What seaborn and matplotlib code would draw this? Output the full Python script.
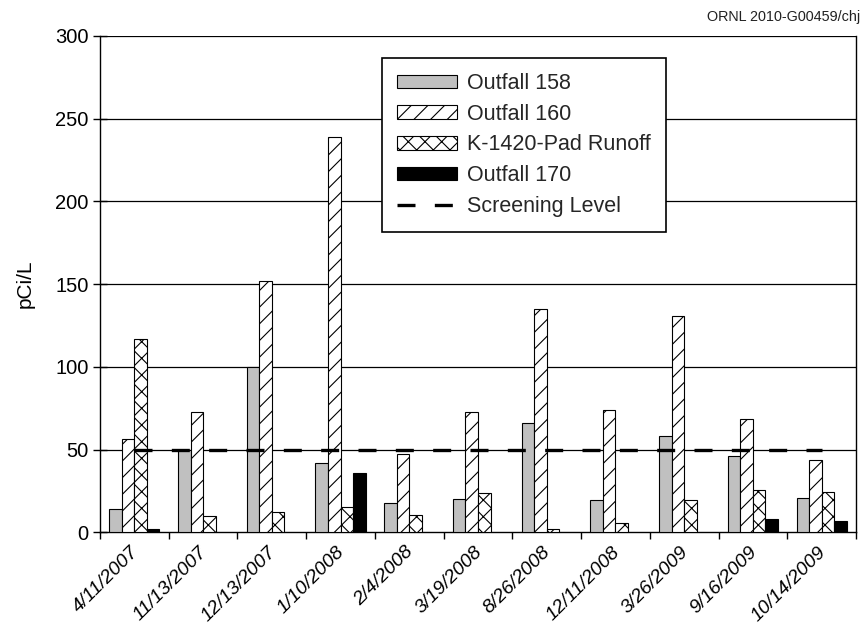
import numpy as np
import pandas as pd
import matplotlib
matplotlib.use("Agg")
import matplotlib.pyplot as plt
import matplotlib.transforms as mtransforms
from matplotlib.patches import Patch
from matplotlib.lines import Line2D
import seaborn as sns

dates = ["4/11/2007", "11/13/2007", "12/13/2007", "1/10/2008", "2/4/2008",
         "3/19/2008", "8/26/2008", "12/11/2008", "3/26/2009", "9/16/2009",
         "10/14/2009"]
outfall_158 = [14, 50, 100, 42, 18, 20, 66, 19.5, 58.5, 46, 21]
outfall_160 = [56.5, 73, 152, 239, 47.5, 73, 135, 74, 131, 68.5, 44]
k1420_pad = [117, 10, 12.5, 15, 10.5, 23.5, 2, 5.5, 19.5, 25.5, 24.5]
outfall_170 = [2, np.nan, np.nan, 36, np.nan, np.nan, np.nan, np.nan, np.nan, 8, 7]
screening_level = 50
series_names = ["Outfall 158", "Outfall 160", "K-1420-Pad Runoff", "Outfall 170"]
y_ticks = [0, 50, 100, 150, 200, 250, 300]

rows = []
for name, vals in zip(series_names, [outfall_158, outfall_160, k1420_pad, outfall_170]):
    for d, v in zip(dates, vals):
        rows.append({"date": d, "series": name, "value": v})
df = pd.DataFrame(rows)

sns.set_theme(style="white")
plt.rcParams["font.family"] = ["Liberation Sans", "DejaVu Sans"]
plt.rcParams["hatch.linewidth"] = 0.8

fig = plt.figure(figsize=(8.62, 6.24), dpi=100)
# axes: x 100..856 px, y 36..532.3 px
ax = fig.add_axes([100 / 862, 1 - 532.3 / 624, 756 / 862, 496.3 / 624])

fills = {"Outfall 158": "#c0c0c0", "Outfall 160": "white",
         "K-1420-Pad Runoff": "white", "Outfall 170": "black"}
hatches = {"Outfall 158": "", "Outfall 160": "//",
           "K-1420-Pad Runoff": "xx", "Outfall 170": ""}

sns.barplot(data=df, x="date", y="value", hue="series", order=dates,
            hue_order=series_names, palette=fills, width=0.73,
            edgecolor="black", linewidth=0.8, legend=False, ax=ax,
            saturation=1, errorbar=None, zorder=3)

for cont, name in zip(ax.containers, series_names):
    for p in cont:
        p.set_hatch(hatches[name])
        p.set_facecolor(fills[name])
        p.set_edgecolor("black")

# screening level
xs = np.arange(len(dates))
ax.plot(xs, [screening_level] * len(dates), color="black", lw=2.4,
        dashes=(5.4, 5.8), zorder=5, dash_capstyle="butt")

ax.set_ylim(0, 300)
ax.set_xlim(-0.5, len(dates) - 0.5)
ax.set_yticks(y_ticks)
ax.set_yticklabels([str(t) for t in y_ticks], fontsize=14.5)
for t in y_ticks[1:]:
    ax.axhline(t, color="black", lw=0.9, zorder=1)

for s in ax.spines.values():
    s.set_color("black")
    s.set_linewidth(1)
ax.spines["top"].set_visible(False)

ax.tick_params(axis="y", which="major", length=9.4, width=1, direction="inout",
               left=True, pad=3.5, colors="black")
ax.set_xticks(xs)
ax.set_xticks(np.arange(-0.5, len(dates), 1), minor=True)
ax.tick_params(axis="x", which="major", length=0, pad=8)
ax.tick_params(axis="x", which="minor", length=5, width=1, direction="out",
               bottom=True, color="black")
ax.set_xticklabels(dates, rotation=45, ha="right",
                   fontsize=14, fontstyle="italic", color="black")
offset = mtransforms.ScaledTranslation(0.075, 0, fig.dpi_scale_trans)
for lab in ax.get_xticklabels():
    lab.set_transform(lab.get_transform() + offset)

ax.set_xlabel("")
ax.set_ylabel("pCi/L", fontsize=15, color="black")
ax.yaxis.set_label_coords(-0.087, 0.5)

handles = [Patch(facecolor=fills[n], edgecolor="black", hatch=hatches[n], lw=0.8)
           for n in series_names]
handles.append(Line2D([0], [0], color="black", lw=2.4, dashes=(5.4, 5.8)))
leg = ax.legend(handles, series_names + ["Screening Level"],
                loc="upper left", bbox_to_anchor=(0.373, 0.9557),
                borderaxespad=0, fontsize=15.5, frameon=True, fancybox=False,
                framealpha=1, edgecolor="black", handlelength=2.79,
                handleheight=0.6, labelspacing=0.45, borderpad=0.7,
                handletextpad=0.46)
leg.get_frame().set_linewidth(1.2)
leg.set_zorder(10)

fig.text(0.9977, 0.972, "ORNL 2010-G00459/chj", ha="right", va="center",
         fontsize=10.4, color="#222222")

fig.savefig("out.png", dpi=100)
